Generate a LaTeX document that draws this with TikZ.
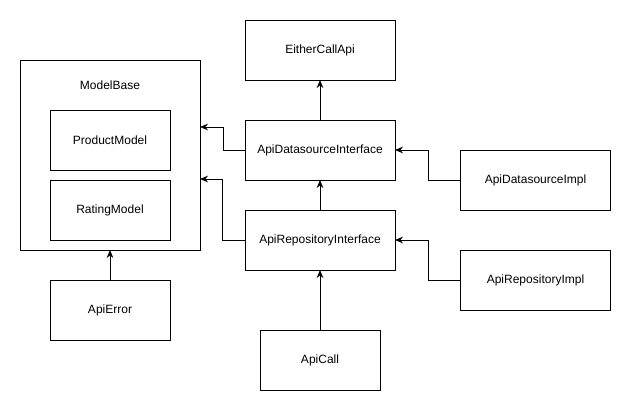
\documentclass[tikz,border=0pt]{standalone}
\usepackage{fontspec}
\setmainfont{Liberation Sans}
\usetikzlibrary{arrows.meta,calc}
\begin{document}
\begin{tikzpicture}[x=0.75pt,y=-0.75pt,
  box/.style={draw, line width=0.75pt, rectangle, outer sep=0pt, minimum width=112.5pt, minimum height=45pt, font=\fontsize{9}{11}\selectfont, inner sep=0pt},
  sbox/.style={box, minimum width=90pt},
  conn/.style={draw, line width=0.75pt, -{Stealth[length=6pt,width=5pt,inset=2pt]}}]
\useasboundingbox (0,0) rectangle (631,411);
% nodes
\node[draw, line width=0.75pt, rectangle, outer sep=0pt, minimum width=135pt, minimum height=142.5pt, inner sep=0pt] (mb) at (110,155) {};
\node[font=\fontsize{9}{11}\selectfont] (mblabel) at (110,85) {ModelBase};
\node[sbox] (pm) at (110,140) {ProductModel};
\node[sbox] (rm) at (110,210) {RatingModel};
\node[sbox] (err) at (110,310) {ApiError};
\node[box] (eca) at (320,50) {EitherCallApi};
\node[box] (dsi) at (320,150) {ApiDatasourceInterface};
\node[box] (ri) at (320,240) {ApiRepositoryInterface};
\node[sbox] (call) at (320,360) {ApiCall};
\node[box] (dsimpl) at (535.5,180) {ApiDatasourceImpl};
\node[box] (rimpl) at (535.5,280) {ApiRepositoryImpl};
% connectors
\draw[conn] (dsi.north) -- (eca.south);
\draw[conn] (ri.north) -- (dsi.south);
\draw[conn] (call.north) -- (ri.south);
\draw[conn] (err.north) -- (mb.south);
\draw[conn] (dsimpl.west) -- ++(-32,0) |- (dsi.east);
\draw[conn] (rimpl.west) -- ++(-32,0) |- (ri.east);
\draw[conn] (dsi.west) -- ++(-22,0) |- ($(mb.east)+(0,-28)$);
\draw[conn] (ri.west) -- ++(-23,0) |- ($(mb.east)+(0,24)$);
\end{tikzpicture}
\end{document}
